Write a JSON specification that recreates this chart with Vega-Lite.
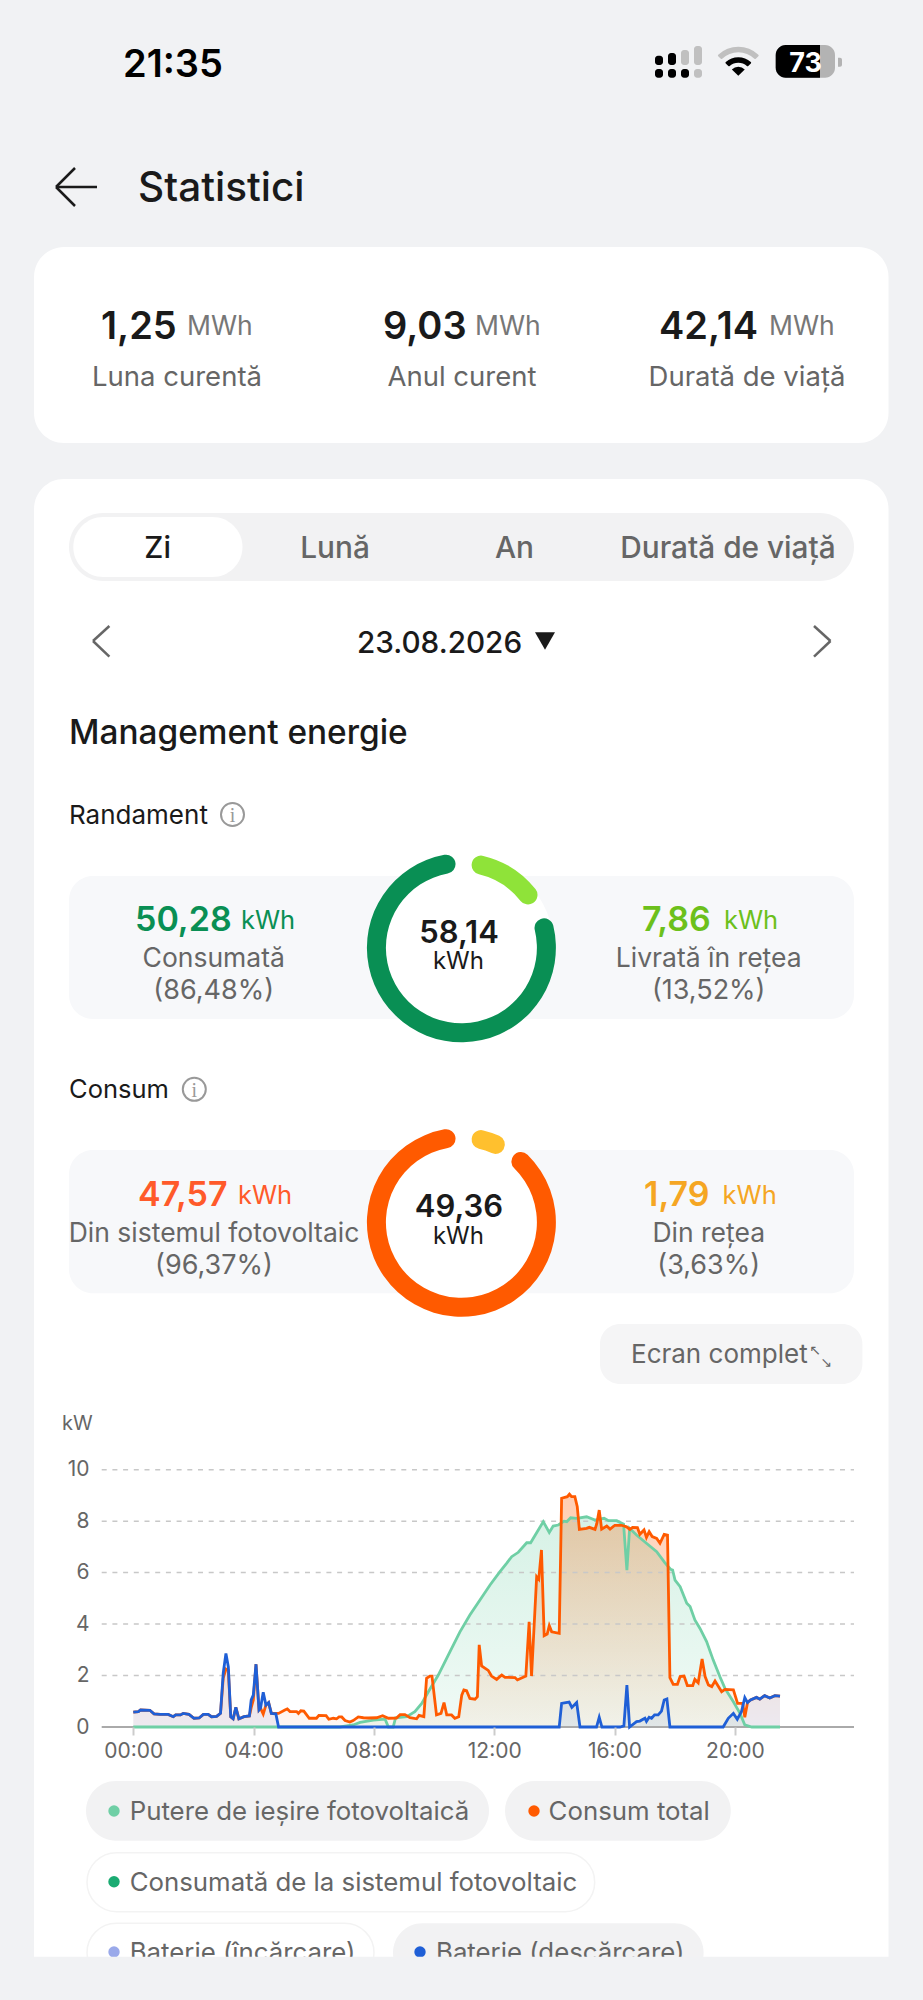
{
  "$schema": "https://vega.github.io/schema/vega-lite/v6.json",
  "width": 923,
  "height": 2000,
  "padding": 0,
  "autosize": {"type": "fit", "contains": "padding"},
  "background": "#f1f2f4",
  "config": {
    "font": "Inter",
    "view": {"stroke": null},
    "text": {"baseline": "alphabetic", "align": "left", "color": "#1a1a1a"}
  },
  "data": {"values": [{"ui": 1}]},
  "datasets": {
    "gridRows": [
      {"kw": 2, "from": -1.05, "to": 23.96},
      {"kw": 4, "from": -1.05, "to": 23.96},
      {"kw": 6, "from": -1.05, "to": 23.96},
      {"kw": 8, "from": -1.05, "to": 23.96},
      {"kw": 10, "from": -1.05, "to": 23.96}
    ],
    "baseRow": [{"kw": 0, "from": -1.05, "to": 23.96}],
    "yieldRing": [
      {"i": 1, "seg": "gol", "deg": 7},
      {"i": 2, "seg": "Livrată în rețea", "deg": 51},
      {"i": 3, "seg": "gol", "deg": 12},
      {"i": 4, "seg": "Consumată", "deg": 286},
      {"i": 5, "seg": "gol", "deg": 4}
    ],
    "useRing": [
      {"i": 1, "seg": "gol", "deg": 7},
      {"i": 2, "seg": "Din rețea", "deg": 23},
      {"i": 3, "seg": "gol", "deg": 8},
      {"i": 4, "seg": "Din sistemul fotovoltaic", "deg": 318},
      {"i": 5, "seg": "gol", "deg": 4}
    ],
    "pv": [
      {"h":0,"kw":0},{"h":6.87,"kw":0},{"h":7.31,"kw":0.08},{"h":7.54,"kw":0.18},{"h":7.98,"kw":0.27},{"h":8.37,"kw":0.31},{"h":8.48,"kw":0},{"h":8.64,"kw":0},{"h":8.72,"kw":0.36},{"h":9.09,"kw":0.4},{"h":9.36,"kw":0.6},{"h":9.59,"kw":0.92},{"h":9.81,"kw":1.37},{"h":10.14,"kw":2.02},{"h":10.53,"kw":2.93},{"h":10.86,"kw":3.7},{"h":11.19,"kw":4.35},{"h":11.52,"kw":4.93},{"h":11.86,"kw":5.52},{"h":12.19,"kw":6.04},{"h":12.41,"kw":6.36},{"h":12.58,"kw":6.62},{"h":12.8,"kw":6.79},{"h":13.08,"kw":7.16},{"h":13.21,"kw":7.16},{"h":13.63,"kw":7.98},{"h":13.83,"kw":7.56},{"h":13.96,"kw":7.81},{"h":14.13,"kw":7.85},{"h":14.32,"kw":8},{"h":14.41,"kw":7.98},{"h":14.54,"kw":8.13},{"h":14.74,"kw":8.11},{"h":15.07,"kw":8.17},{"h":15.35,"kw":8.04},{"h":15.65,"kw":8.11},{"h":15.8,"kw":8.02},{"h":16.07,"kw":8.02},{"h":16.3,"kw":7.88},{"h":16.41,"kw":6.1},{"h":16.5,"kw":7.72},{"h":16.73,"kw":7.46},{"h":17.06,"kw":7.14},{"h":17.4,"kw":6.81},{"h":17.67,"kw":6.39},{"h":17.86,"kw":6.13},{"h":17.93,"kw":6.1},{"h":18.01,"kw":5.71},{"h":18.18,"kw":5.45},{"h":18.4,"kw":4.81},{"h":18.51,"kw":4.68},{"h":18.67,"kw":4.16},{"h":18.84,"kw":3.83},{"h":19.06,"kw":3.32},{"h":19.28,"kw":2.6},{"h":19.5,"kw":1.96},{"h":19.67,"kw":1.5},{"h":19.95,"kw":0.98},{"h":20.17,"kw":0.53},{"h":20.33,"kw":0.08},{"h":20.56,"kw":0},{"h":21.5,"kw":0}
    ],
    "load": [
      {"h":0,"kw":0.58},{"h":0.17,"kw":0.6},{"h":0.24,"kw":0.66},{"h":0.55,"kw":0.65},{"h":0.69,"kw":0.51},{"h":0.89,"kw":0.49},{"h":1.16,"kw":0.49},{"h":1.33,"kw":0.4},{"h":1.41,"kw":0.47},{"h":1.57,"kw":0.47},{"h":1.66,"kw":0.53},{"h":1.85,"kw":0.49},{"h":2.02,"kw":0.34},{"h":2.19,"kw":0.35},{"h":2.33,"kw":0.49},{"h":2.49,"kw":0.49},{"h":2.6,"kw":0.4},{"h":2.77,"kw":0.41},{"h":2.9,"kw":0.53},{"h":2.99,"kw":1.9},{"h":3.08,"kw":2.25},{"h":3.16,"kw":2.2},{"h":3.24,"kw":0.4},{"h":3.32,"kw":0.32},{"h":3.41,"kw":0.76},{"h":3.51,"kw":0.32},{"h":3.68,"kw":0.4},{"h":3.86,"kw":0.43},{"h":3.92,"kw":0.75},{"h":3.99,"kw":1.05},{"h":4.08,"kw":2.44},{"h":4.18,"kw":0.66},{"h":4.23,"kw":0.73},{"h":4.32,"kw":0.5},{"h":4.41,"kw":0.85},{"h":4.5,"kw":0.95},{"h":4.59,"kw":0.53},{"h":4.83,"kw":0.53},{"h":5.04,"kw":0.66},{"h":5.12,"kw":0.7},{"h":5.21,"kw":0.6},{"h":5.43,"kw":0.6},{"h":5.49,"kw":0.53},{"h":5.57,"kw":0.63},{"h":5.67,"kw":0.62},{"h":5.85,"kw":0.34},{"h":6.09,"kw":0.34},{"h":6.17,"kw":0.45},{"h":6.41,"kw":0.44},{"h":6.5,"kw":0.3},{"h":6.65,"kw":0.34},{"h":6.76,"kw":0.32},{"h":6.84,"kw":0.39},{"h":6.93,"kw":0.39},{"h":7.04,"kw":0.25},{"h":7.2,"kw":0.19},{"h":7.31,"kw":0.25},{"h":7.48,"kw":0.39},{"h":7.65,"kw":0.36},{"h":7.82,"kw":0.35},{"h":8.09,"kw":0.36},{"h":8.29,"kw":0.44},{"h":8.48,"kw":0.34},{"h":8.75,"kw":0.35},{"h":8.87,"kw":0.48},{"h":9.03,"kw":0.48},{"h":9.2,"kw":0.36},{"h":9.42,"kw":0.32},{"h":9.5,"kw":0.45},{"h":9.66,"kw":0.4},{"h":9.75,"kw":1.89},{"h":9.86,"kw":1.98},{"h":9.93,"kw":1.98},{"h":10.08,"kw":0.47},{"h":10.23,"kw":0.53},{"h":10.33,"kw":0.95},{"h":10.42,"kw":0.47},{"h":10.58,"kw":0.47},{"h":10.69,"kw":0.34},{"h":10.82,"kw":0.4},{"h":10.92,"kw":1.24},{"h":10.99,"kw":1.44},{"h":11.08,"kw":1.41},{"h":11.19,"kw":1.11},{"h":11.36,"kw":1.08},{"h":11.44,"kw":1.18},{"h":11.5,"kw":3.19},{"h":11.58,"kw":2.37},{"h":11.8,"kw":2.2},{"h":11.91,"kw":1.98},{"h":12.08,"kw":1.85},{"h":12.25,"kw":2.02},{"h":12.36,"kw":1.93},{"h":12.69,"kw":1.92},{"h":12.77,"kw":1.83},{"h":13.05,"kw":1.98},{"h":13.16,"kw":4.09},{"h":13.24,"kw":1.98},{"h":13.41,"kw":5.84},{"h":13.48,"kw":5.74},{"h":13.57,"kw":6.88},{"h":13.66,"kw":3.55},{"h":13.76,"kw":3.61},{"h":13.83,"kw":3.94},{"h":13.91,"kw":3.7},{"h":14.16,"kw":3.64},{"h":14.24,"kw":8.89},{"h":14.43,"kw":8.95},{"h":14.5,"kw":9.05},{"h":14.57,"kw":8.95},{"h":14.68,"kw":8.95},{"h":14.76,"kw":8.56},{"h":14.83,"kw":7.68},{"h":15.07,"kw":7.72},{"h":15.16,"kw":7.76},{"h":15.35,"kw":7.68},{"h":15.41,"kw":7.91},{"h":15.49,"kw":8.43},{"h":15.57,"kw":7.69},{"h":15.74,"kw":7.81},{"h":15.85,"kw":7.69},{"h":16.01,"kw":7.84},{"h":16.23,"kw":7.84},{"h":16.4,"kw":7.78},{"h":16.51,"kw":7.68},{"h":16.6,"kw":7.76},{"h":16.76,"kw":7.75},{"h":16.84,"kw":7.49},{"h":16.98,"kw":7.66},{"h":17.06,"kw":7.37},{"h":17.15,"kw":7.59},{"h":17.25,"kw":7.4},{"h":17.4,"kw":7.33},{"h":17.51,"kw":7.14},{"h":17.65,"kw":7.49},{"h":17.76,"kw":7.46},{"h":17.84,"kw":1.92},{"h":17.95,"kw":1.66},{"h":18.09,"kw":1.66},{"h":18.18,"kw":1.96},{"h":18.31,"kw":1.98},{"h":18.42,"kw":1.61},{"h":18.6,"kw":1.61},{"h":18.67,"kw":1.85},{"h":18.78,"kw":1.72},{"h":18.91,"kw":2.64},{"h":19.01,"kw":1.96},{"h":19.12,"kw":1.63},{"h":19.23,"kw":1.57},{"h":19.34,"kw":1.79},{"h":19.56,"kw":1.37},{"h":19.67,"kw":1.46},{"h":19.95,"kw":1.44},{"h":20.09,"kw":0.92},{"h":20.26,"kw":0.92},{"h":20.33,"kw":0.38},{"h":20.42,"kw":0.95},{"h":20.52,"kw":1.05},{"h":20.72,"kw":1.15},{"h":20.83,"kw":1.08},{"h":20.99,"kw":1.22},{"h":21.16,"kw":1.13},{"h":21.33,"kw":1.22},{"h":21.5,"kw":1.2}
    ],
    "discharge": [
      {"h":0,"kw":0.58},{"h":0.17,"kw":0.6},{"h":0.24,"kw":0.66},{"h":0.55,"kw":0.65},{"h":0.69,"kw":0.51},{"h":0.89,"kw":0.49},{"h":1.16,"kw":0.49},{"h":1.33,"kw":0.4},{"h":1.41,"kw":0.47},{"h":1.57,"kw":0.47},{"h":1.66,"kw":0.53},{"h":1.85,"kw":0.49},{"h":2.02,"kw":0.34},{"h":2.19,"kw":0.35},{"h":2.33,"kw":0.49},{"h":2.49,"kw":0.49},{"h":2.6,"kw":0.4},{"h":2.77,"kw":0.41},{"h":2.9,"kw":0.53},{"h":2.99,"kw":2.09},{"h":3.08,"kw":2.86},{"h":3.16,"kw":2.34},{"h":3.24,"kw":0.4},{"h":3.32,"kw":0.32},{"h":3.41,"kw":0.76},{"h":3.51,"kw":0.32},{"h":3.68,"kw":0.4},{"h":3.86,"kw":0.43},{"h":3.92,"kw":1.05},{"h":3.99,"kw":1.24},{"h":4.08,"kw":2.44},{"h":4.18,"kw":0.66},{"h":4.23,"kw":0.73},{"h":4.32,"kw":1.35},{"h":4.41,"kw":0.85},{"h":4.5,"kw":0.95},{"h":4.59,"kw":0.53},{"h":4.74,"kw":0.51},{"h":4.83,"kw":0},{"h":14.16,"kw":0},{"h":14.24,"kw":0.92},{"h":14.38,"kw":0.95},{"h":14.49,"kw":0.97},{"h":14.58,"kw":0.76},{"h":14.74,"kw":0.95},{"h":14.85,"kw":0},{"h":15.4,"kw":0},{"h":15.49,"kw":0.38},{"h":15.58,"kw":0},{"h":16.18,"kw":0},{"h":16.31,"kw":0.04},{"h":16.41,"kw":1.63},{"h":16.5,"kw":0},{"h":16.73,"kw":0.21},{"h":16.84,"kw":0.23},{"h":17.01,"kw":0.34},{"h":17.06,"kw":0.22},{"h":17.15,"kw":0.38},{"h":17.23,"kw":0.34},{"h":17.33,"kw":0.47},{"h":17.45,"kw":0.47},{"h":17.56,"kw":0.62},{"h":17.65,"kw":1.05},{"h":17.74,"kw":1.09},{"h":17.84,"kw":0},{"h":19.61,"kw":0},{"h":19.78,"kw":0.34},{"h":19.95,"kw":0.53},{"h":20.08,"kw":0.3},{"h":20.22,"kw":0.6},{"h":20.33,"kw":1.14},{"h":20.42,"kw":0.95},{"h":20.52,"kw":1.05},{"h":20.72,"kw":1.15},{"h":20.83,"kw":1.08},{"h":20.99,"kw":1.22},{"h":21.16,"kw":1.13},{"h":21.33,"kw":1.22},{"h":21.5,"kw":1.2}
    ]
  },
  "layer": [
    {"mark": {"type": "rect", "color": "#ffffff", "cornerRadius": 30}, "encoding": {"x": {"value": 34}, "x2": {"value": 888.5}, "y": {"value": 247}, "y2": {"value": 443}}},
    {"mark": {"type": "rect", "color": "#ffffff", "cornerRadius": 30}, "encoding": {"x": {"value": 34}, "x2": {"value": 888.5}, "y": {"value": 479}, "y2": {"value": 2000}}},

    {"mark": {"type": "text", "text": "21:35", "x": 123, "y": 77, "fontSize": 38, "fontWeight": 600, "color": "#000000"}},
    {"mark": {"type": "rect", "color": "#000000", "cornerRadius": 3}, "encoding": {"x": {"value": 655}, "x2": {"value": 663}, "y": {"value": 55.7}, "y2": {"value": 65}}},
    {"mark": {"type": "rect", "color": "#000000", "cornerRadius": 3}, "encoding": {"x": {"value": 668}, "x2": {"value": 676}, "y": {"value": 53}, "y2": {"value": 65}}},
    {"mark": {"type": "rect", "color": "#c0c0c0", "cornerRadius": 3}, "encoding": {"x": {"value": 681}, "x2": {"value": 689}, "y": {"value": 50}, "y2": {"value": 65}}},
    {"mark": {"type": "rect", "color": "#c0c0c0", "cornerRadius": 3}, "encoding": {"x": {"value": 694}, "x2": {"value": 702}, "y": {"value": 46}, "y2": {"value": 65}}},
    {"mark": {"type": "rect", "color": "#000000", "cornerRadius": 3}, "encoding": {"x": {"value": 655}, "x2": {"value": 663}, "y": {"value": 69}, "y2": {"value": 77.7}}},
    {"mark": {"type": "rect", "color": "#000000", "cornerRadius": 3}, "encoding": {"x": {"value": 668}, "x2": {"value": 676}, "y": {"value": 69}, "y2": {"value": 77.7}}},
    {"mark": {"type": "rect", "color": "#000000", "cornerRadius": 3}, "encoding": {"x": {"value": 681}, "x2": {"value": 689}, "y": {"value": 69}, "y2": {"value": 77.7}}},
    {"mark": {"type": "rect", "color": "#c0c0c0", "cornerRadius": 3}, "encoding": {"x": {"value": 694}, "x2": {"value": 702}, "y": {"value": 69}, "y2": {"value": 77.7}}},
    {"mark": {"type": "arc", "color": "#c0c0c0", "theta": -0.8, "theta2": 0.8, "radius": 29, "radius2": 23.4, "cornerRadius": 1, "x": 738.3, "y": 75.7}},
    {"mark": {"type": "arc", "color": "#000000", "theta": -0.8, "theta2": 0.8, "radius": 18.5, "radius2": 12.9, "cornerRadius": 1, "x": 738.3, "y": 75.7}},
    {"mark": {"type": "arc", "color": "#000000", "theta": -0.8, "theta2": 0.8, "radius": 9, "radius2": 0, "x": 738.3, "y": 75.7}},
    {"mark": {"type": "rect", "color": "#b3b3b3", "cornerRadius": 10}, "encoding": {"x": {"value": 775.7}, "x2": {"value": 835}, "y": {"value": 45}, "y2": {"value": 77.7}}},
    {"mark": {"type": "rect", "color": "#000000", "cornerRadiusTopLeft": 10, "cornerRadiusBottomLeft": 10}, "encoding": {"x": {"value": 775.7}, "x2": {"value": 820}, "y": {"value": 45}, "y2": {"value": 77.7}}},
    {"mark": {"type": "rect", "color": "#b3b3b3", "cornerRadiusTopRight": 3, "cornerRadiusBottomRight": 3}, "encoding": {"x": {"value": 838}, "x2": {"value": 842}, "y": {"value": 57.7}, "y2": {"value": 66.7}}},
    {"mark": {"type": "text", "text": "73", "x": 805.5, "y": 71.7, "align": "center", "fontSize": 27, "fontWeight": 700, "color": "#ffffff"}},

    {"mark": {"type": "rule", "color": "#1a1a1a", "strokeWidth": 2.5}, "encoding": {"x": {"value": 56}, "x2": {"value": 97}, "y": {"value": 187}, "y2": {"value": 187}}},
    {"mark": {"type": "rule", "color": "#1a1a1a", "strokeWidth": 2.5}, "encoding": {"x": {"value": 56}, "x2": {"value": 75}, "y": {"value": 187}, "y2": {"value": 168}}},
    {"mark": {"type": "rule", "color": "#1a1a1a", "strokeWidth": 2.5}, "encoding": {"x": {"value": 56}, "x2": {"value": 75}, "y": {"value": 187}, "y2": {"value": 206}}},
    {"mark": {"type": "text", "text": "Statistici", "x": 138, "y": 201, "fontSize": 40.5, "fontWeight": 500}},

    {"mark": {"type": "text", "text": "1,25", "x": 101, "y": 339, "fontSize": 38, "fontWeight": 600}},
    {"mark": {"type": "text", "text": "MWh", "x": 187, "y": 335, "fontSize": 26.5, "color": "#777777"}},
    {"mark": {"type": "text", "text": "Luna curentă", "x": 177, "y": 386, "align": "center", "fontSize": 27.5, "color": "#666666"}},
    {"mark": {"type": "text", "text": "9,03", "x": 383, "y": 339, "fontSize": 38, "fontWeight": 600}},
    {"mark": {"type": "text", "text": "MWh", "x": 475, "y": 335, "fontSize": 26.5, "color": "#777777"}},
    {"mark": {"type": "text", "text": "Anul curent", "x": 462, "y": 386, "align": "center", "fontSize": 27.5, "color": "#666666"}},
    {"mark": {"type": "text", "text": "42,14", "x": 659, "y": 339, "fontSize": 38, "fontWeight": 600}},
    {"mark": {"type": "text", "text": "MWh", "x": 769, "y": 335, "fontSize": 26.5, "color": "#777777"}},
    {"mark": {"type": "text", "text": "Durată de viață", "x": 747, "y": 386, "align": "center", "fontSize": 27.5, "color": "#666666"}},

    {"mark": {"type": "rect", "color": "#f2f2f3", "cornerRadius": 34}, "encoding": {"x": {"value": 69}, "x2": {"value": 854}, "y": {"value": 513}, "y2": {"value": 581}}},
    {"mark": {"type": "rect", "color": "#ffffff", "cornerRadius": 30}, "encoding": {"x": {"value": 73.3}, "x2": {"value": 242.5}, "y": {"value": 517}, "y2": {"value": 577}}},
    {"mark": {"type": "text", "text": "Zi", "x": 157.6, "y": 558, "align": "center", "fontSize": 29.8, "fontWeight": 500}},
    {"mark": {"type": "text", "text": "Lună", "x": 335, "y": 558, "align": "center", "fontSize": 29.8, "fontWeight": 500, "color": "#666666"}},
    {"mark": {"type": "text", "text": "An", "x": 514.5, "y": 558, "align": "center", "fontSize": 29.8, "fontWeight": 500, "color": "#666666"}},
    {"mark": {"type": "text", "text": "Durată de viață", "x": 728, "y": 558, "align": "center", "fontSize": 29.8, "fontWeight": 500, "color": "#666666"}},

    {"mark": {"type": "rule", "color": "#666666", "strokeWidth": 2.5}, "encoding": {"x": {"value": 109.4}, "x2": {"value": 93}, "y": {"value": 626}, "y2": {"value": 641}}},
    {"mark": {"type": "rule", "color": "#666666", "strokeWidth": 2.5}, "encoding": {"x": {"value": 93}, "x2": {"value": 109.4}, "y": {"value": 641}, "y2": {"value": 656.7}}},
    {"mark": {"type": "rule", "color": "#666666", "strokeWidth": 2.5}, "encoding": {"x": {"value": 814}, "x2": {"value": 830.5}, "y": {"value": 626}, "y2": {"value": 641}}},
    {"mark": {"type": "rule", "color": "#666666", "strokeWidth": 2.5}, "encoding": {"x": {"value": 830.5}, "x2": {"value": 814}, "y": {"value": 641}, "y2": {"value": 656.7}}},
    {"mark": {"type": "text", "text": "23.08.2026", "x": 357, "y": 653, "fontSize": 29.7, "fontWeight": 500}},
    {"mark": {"type": "point", "shape": "triangle-down", "filled": true, "color": "#1a1a1a", "opacity": 1, "size": 400, "x": 545, "y": 641}},
    {"mark": {"type": "text", "text": "Management energie", "x": 69, "y": 744, "fontSize": 33.4, "fontWeight": 500}},

    {"mark": {"type": "text", "text": "Randament", "x": 69, "y": 824, "fontSize": 26, "fontWeight": 400}},
    {"mark": {"type": "point", "shape": "circle", "filled": false, "color": "#999999", "opacity": 1, "strokeWidth": 2, "size": 530, "x": 232.5, "y": 814.5}},
    {"mark": {"type": "text", "text": "i", "x": 232.5, "y": 822, "align": "center", "fontSize": 20, "font": "Liberation Serif", "color": "#999999"}},
    {"mark": {"type": "rect", "color": "#f7f8fa", "cornerRadius": 24}, "encoding": {"x": {"value": 69}, "x2": {"value": 854}, "y": {"value": 876}, "y2": {"value": 1019}}},
    {"mark": {"type": "point", "shape": "circle", "filled": true, "color": "#ffffff", "opacity": 1, "size": 34300, "x": 461.4, "y": 947.8}},
    {
      "data": {"name": "yieldRing"},
      "mark": {"type": "arc", "radius": 94.5, "radius2": 75.5, "cornerRadius": 9.5},
      "encoding": {
        "x": {"value": 461.4},
        "y": {"value": 947.8},
        "theta": {"field": "deg", "type": "quantitative", "stack": true, "scale": {"domain": [0, 360]}},
        "order": {"field": "i", "type": "ordinal"},
        "color": {"field": "seg", "type": "nominal", "legend": null, "scale": {"domain": ["gol", "Consumată", "Livrată în rețea", "Din sistemul fotovoltaic", "Din rețea"], "range": ["transparent", "#098f54", "#8fe339", "#ff5a00", "#ffc02e"]}}
      }
    },
    {"mark": {"type": "text", "text": "50,28", "x": 135, "y": 931, "fontSize": 34, "fontWeight": 600, "color": "#098f54"}},
    {"mark": {"type": "text", "text": "kWh", "x": 241, "y": 929, "fontSize": 25.5, "color": "#098f54"}},
    {"mark": {"type": "text", "text": "Consumată", "x": 213.7, "y": 967, "align": "center", "fontSize": 26.5, "color": "#666666"}},
    {"mark": {"type": "text", "text": "(86,48%)", "x": 213.7, "y": 999, "align": "center", "fontSize": 27, "color": "#666666"}},
    {"mark": {"type": "text", "text": "58,14", "x": 459, "y": 943, "align": "center", "fontSize": 31, "fontWeight": 600}},
    {"mark": {"type": "text", "text": "kWh", "x": 458.4, "y": 969, "align": "center", "fontSize": 24}},
    {"mark": {"type": "text", "text": "7,86", "x": 642, "y": 931, "fontSize": 34, "fontWeight": 600, "color": "#6cc01b"}},
    {"mark": {"type": "text", "text": "kWh", "x": 724, "y": 929, "fontSize": 25.5, "color": "#6cc01b"}},
    {"mark": {"type": "text", "text": "Livrată în rețea", "x": 708.7, "y": 967, "align": "center", "fontSize": 26.5, "color": "#666666"}},
    {"mark": {"type": "text", "text": "(13,52%)", "x": 708.7, "y": 999, "align": "center", "fontSize": 27, "color": "#666666"}},

    {"mark": {"type": "text", "text": "Consum", "x": 69, "y": 1098, "fontSize": 25.5, "fontWeight": 400}},
    {"mark": {"type": "point", "shape": "circle", "filled": false, "color": "#999999", "opacity": 1, "strokeWidth": 2, "size": 530, "x": 194.3, "y": 1089.3}},
    {"mark": {"type": "text", "text": "i", "x": 194.3, "y": 1097, "align": "center", "fontSize": 20, "font": "Liberation Serif", "color": "#999999"}},
    {"mark": {"type": "rect", "color": "#f7f8fa", "cornerRadius": 24}, "encoding": {"x": {"value": 69}, "x2": {"value": 854}, "y": {"value": 1150}, "y2": {"value": 1293.3}}},
    {"mark": {"type": "point", "shape": "circle", "filled": true, "color": "#ffffff", "opacity": 1, "size": 34300, "x": 461.4, "y": 1222.3}},
    {
      "data": {"name": "useRing"},
      "mark": {"type": "arc", "radius": 94.5, "radius2": 75.5, "cornerRadius": 9.5},
      "encoding": {
        "x": {"value": 461.4},
        "y": {"value": 1222.3},
        "theta": {"field": "deg", "type": "quantitative", "stack": true, "scale": {"domain": [0, 360]}},
        "order": {"field": "i", "type": "ordinal"},
        "color": {"field": "seg", "type": "nominal", "legend": null}
      }
    },
    {"mark": {"type": "text", "text": "47,57", "x": 138, "y": 1206, "fontSize": 34, "fontWeight": 600, "color": "#ff5a2a"}},
    {"mark": {"type": "text", "text": "kWh", "x": 238, "y": 1204, "fontSize": 25.5, "color": "#ff5a2a"}},
    {"mark": {"type": "text", "text": "Din sistemul fotovoltaic", "x": 214, "y": 1242, "align": "center", "fontSize": 26.5, "color": "#666666"}},
    {"mark": {"type": "text", "text": "(96,37%)", "x": 214, "y": 1274, "align": "center", "fontSize": 27, "color": "#666666"}},
    {"mark": {"type": "text", "text": "49,36", "x": 459, "y": 1217, "align": "center", "fontSize": 31, "fontWeight": 600}},
    {"mark": {"type": "text", "text": "kWh", "x": 458.4, "y": 1244, "align": "center", "fontSize": 24}},
    {"mark": {"type": "text", "text": "1,79", "x": 644, "y": 1206, "fontSize": 34, "fontWeight": 600, "color": "#f5a623"}},
    {"mark": {"type": "text", "text": "kWh", "x": 722.6, "y": 1204, "fontSize": 25.5, "color": "#f5a623"}},
    {"mark": {"type": "text", "text": "Din rețea", "x": 708.7, "y": 1242, "align": "center", "fontSize": 26.5, "color": "#666666"}},
    {"mark": {"type": "text", "text": "(3,63%)", "x": 708.7, "y": 1274, "align": "center", "fontSize": 27, "color": "#666666"}},

    {"mark": {"type": "rect", "color": "#f5f5f6", "cornerRadius": 20}, "encoding": {"x": {"value": 600}, "x2": {"value": 862.4}, "y": {"value": 1324}, "y2": {"value": 1384}}},
    {"mark": {"type": "text", "text": "Ecran complet", "x": 631, "y": 1363, "fontSize": 26, "color": "#666666"}},
    {"mark": {"type": "text", "text": "↖", "x": 815, "y": 1355, "align": "center", "fontSize": 14, "font": "DejaVu Sans", "color": "#666666"}},
    {"mark": {"type": "text", "text": "↘", "x": 826, "y": 1367, "align": "center", "fontSize": 14, "font": "DejaVu Sans", "color": "#666666"}},

    {"mark": {"type": "text", "text": "kW", "x": 62, "y": 1430, "fontSize": 20, "color": "#666666"}},

    {
      "data": {"name": "pv"},
      "mark": {"type": "area", "line": false, "fill": {"gradient": "linear", "x1": 0, "y1": 0, "x2": 0, "y2": 1, "stops": [{"offset": 0, "color": "rgba(111,207,165,0.28)"}, {"offset": 1, "color": "rgba(111,207,165,0.1)"}]}},
      "encoding": {
        "x": {"field": "h", "type": "quantitative", "scale": {"domain": [-1.05, 23.96], "range": [101.7, 854], "nice": false}, "axis": {"values": [0, 4, 8, 12, 16, 20], "labelExpr": "(datum.value < 10 ? '0' : '') + datum.value + ':00'", "title": null, "offset": -273, "domain": false, "grid": false, "zindex": 1, "tickColor": "#cccccc", "tickWidth": 2, "tickSize": 8, "labelFontSize": 21, "labelColor": "#666666", "labelPadding": 5, "labelFlush": false, "labelOverlap": false}},
        "y": {"field": "kw", "type": "quantitative", "scale": {"domain": [0, 10], "range": [1727, 1469.7], "nice": false}, "axis": {"values": [0, 2, 4, 6, 8, 10], "format": "d", "title": null, "offset": -92, "domain": false, "ticks": false, "grid": false, "zindex": 1, "labelFontSize": 21, "labelColor": "#666666", "labelPadding": 3, "labelFlush": false, "labelOverlap": false}}
      }
    },
    {
      "data": {"name": "load"},
      "mark": {"type": "area", "line": false, "fill": {"gradient": "linear", "x1": 0, "y1": 0, "x2": 0, "y2": 1, "stops": [{"offset": 0, "color": "rgba(255,90,0,0.3)"}, {"offset": 1, "color": "rgba(255,90,0,0.05)"}]}},
      "encoding": {"x": {"field": "h", "type": "quantitative"}, "y": {"field": "kw", "type": "quantitative"}}
    },
    {
      "data": {"name": "discharge"},
      "mark": {"type": "area", "line": false, "fill": "#1f5fd6", "fillOpacity": 0.08},
      "encoding": {"x": {"field": "h", "type": "quantitative"}, "y": {"field": "kw", "type": "quantitative"}}
    },
    {
      "data": {"name": "gridRows"},
      "mark": {"type": "rule", "color": "#c8c8c8", "strokeWidth": 1.5, "strokeDash": [5, 5.7]},
      "encoding": {"x": {"field": "from", "type": "quantitative"}, "x2": {"field": "to"}, "y": {"field": "kw", "type": "quantitative"}}
    },
    {
      "data": {"name": "baseRow"},
      "mark": {"type": "rule", "color": "#aaaaaa", "strokeWidth": 2},
      "encoding": {"x": {"field": "from", "type": "quantitative"}, "x2": {"field": "to"}, "y": {"field": "kw", "type": "quantitative"}}
    },
    {
      "data": {"name": "pv"},
      "mark": {"type": "line", "color": "#6fcfa5", "strokeWidth": 2.8},
      "encoding": {"x": {"field": "h", "type": "quantitative"}, "y": {"field": "kw", "type": "quantitative"}}
    },
    {
      "data": {"name": "load"},
      "mark": {"type": "line", "color": "#ff5a00", "strokeWidth": 2.8},
      "encoding": {"x": {"field": "h", "type": "quantitative"}, "y": {"field": "kw", "type": "quantitative"}}
    },
    {
      "data": {"name": "discharge"},
      "mark": {"type": "line", "color": "#1f5fd6", "strokeWidth": 2.8},
      "encoding": {"x": {"field": "h", "type": "quantitative"}, "y": {"field": "kw", "type": "quantitative"}}
    },

    {"mark": {"type": "rect", "color": "#f2f2f3", "cornerRadius": 30}, "encoding": {"x": {"value": 86}, "x2": {"value": 489}, "y": {"value": 1781}, "y2": {"value": 1840.7}}},
    {"mark": {"type": "point", "shape": "circle", "filled": true, "opacity": 1, "color": "#6fcfa5", "size": 130, "x": 114, "y": 1811}},
    {"mark": {"type": "text", "text": "Putere de ieșire fotovoltaică", "x": 129.7, "y": 1820, "fontSize": 25.8, "color": "#666666"}},
    {"mark": {"type": "rect", "color": "#f2f2f3", "cornerRadius": 30}, "encoding": {"x": {"value": 505}, "x2": {"value": 730.8}, "y": {"value": 1781}, "y2": {"value": 1840.7}}},
    {"mark": {"type": "point", "shape": "circle", "filled": true, "opacity": 1, "color": "#ff5a00", "size": 130, "x": 534, "y": 1811}},
    {"mark": {"type": "text", "text": "Consum total", "x": 548.6, "y": 1820, "fontSize": 25.8, "color": "#666666"}},
    {"mark": {"type": "rect", "color": "#ffffff", "stroke": "#f3f3f3", "strokeWidth": 1.5, "cornerRadius": 30}, "encoding": {"x": {"value": 87}, "x2": {"value": 594.7}, "y": {"value": 1852.7}, "y2": {"value": 1911.7}}},
    {"mark": {"type": "point", "shape": "circle", "filled": true, "opacity": 1, "color": "#1aab72", "size": 130, "x": 114, "y": 1881.7}},
    {"mark": {"type": "text", "text": "Consumată de la sistemul fotovoltaic", "x": 129.7, "y": 1890.7, "fontSize": 25.8, "color": "#666666"}},
    {"mark": {"type": "rect", "color": "#ffffff", "stroke": "#f3f3f3", "strokeWidth": 1.5, "cornerRadius": 30}, "encoding": {"x": {"value": 87}, "x2": {"value": 374}, "y": {"value": 1923.3}, "y2": {"value": 1982}}},
    {"mark": {"type": "point", "shape": "circle", "filled": true, "opacity": 1, "color": "#9aa9ea", "size": 130, "x": 114, "y": 1952}},
    {"mark": {"type": "text", "text": "Baterie (încărcare)", "x": 129.7, "y": 1961, "fontSize": 25.8, "color": "#666666"}},
    {"mark": {"type": "rect", "color": "#f2f2f3", "cornerRadius": 30}, "encoding": {"x": {"value": 393}, "x2": {"value": 703.6}, "y": {"value": 1923.3}, "y2": {"value": 1982}}},
    {"mark": {"type": "point", "shape": "circle", "filled": true, "opacity": 1, "color": "#1f5fd6", "size": 130, "x": 420, "y": 1952}},
    {"mark": {"type": "text", "text": "Baterie (descărcare)", "x": 436, "y": 1961, "fontSize": 25.8, "color": "#666666"}},

    {"mark": {"type": "rect", "color": "#f1f2f4"}, "encoding": {"x": {"value": 0}, "x2": {"value": 923}, "y": {"value": 1956.7}, "y2": {"value": 2000}}}
  ]
}
